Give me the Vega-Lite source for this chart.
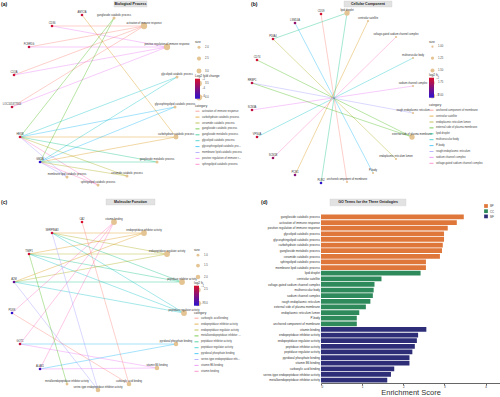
{
"$schema":"https://vega.github.io/schema/vega-lite/v6.json",
"padding":0,
"background":"white",
"config":{"font":"Liberation Sans","view":{"stroke":null},
 "legend":{"titleFontSize":3.2,"titleFontWeight":"normal","titleColor":"#333","labelFontSize":2.7,"labelColor":"#444","titlePadding":1.5,"rowPadding":0.9,"labelOffset":2,"padding":0,"gradientLength":20,"gradientThickness":5,"labelOverlap":false,"titleLimit":80}},
"datasets":{
 "nodesA":[
  {"name":"AMY2A","type":"gene","x":-13,"y":85,"lfc":-2.2},
  {"name":"CD36","type":"gene","x":-43,"y":74,"lfc":-2.0},
  {"name":"FCER1G","type":"gene","x":-66,"y":53,"lfc":-2.4},
  {"name":"C1QA","type":"gene","x":-81,"y":25,"lfc":-2.1},
  {"name":"LOC105377164","type":"gene","x":-83,"y":-7,"lfc":-2.3},
  {"name":"HEXB","type":"gene","x":-75,"y":-37,"lfc":-2.0},
  {"name":"GM2A","type":"gene","x":-55,"y":-62,"lfc":-6.4},
  {"name":"ganglioside catabolic process","type":"term","x":19,"y":82,"size":2},
  {"name":"activation of immune response","type":"term","x":49,"y":74,"size":4},
  {"name":"positive regulation of immune response","type":"term","x":72,"y":53,"size":4},
  {"name":"glycolipid catabolic process","type":"term","x":82,"y":23,"size":2},
  {"name":"glycosphingolipid catabolic process","type":"term","x":80,"y":-7,"size":2},
  {"name":"carbohydrate catabolic process","type":"term","x":81,"y":-37,"size":3},
  {"name":"ganglioside metabolic process","type":"term","x":62,"y":-62,"size":2},
  {"name":"ceramide catabolic process","type":"term","x":32,"y":-76,"size":2},
  {"name":"sphingolipid catabolic process","type":"term","x":3,"y":-85,"size":2},
  {"name":"membrane lipid catabolic process","type":"term","x":-28,"y":-77,"size":2}
 ],
 "edgesA":[
  {"gene":"CD36","term":"activation of immune response"},
  {"gene":"CD36","term":"positive regulation of immune response"},
  {"gene":"FCER1G","term":"activation of immune response"},
  {"gene":"FCER1G","term":"positive regulation of immune response"},
  {"gene":"C1QA","term":"activation of immune response"},
  {"gene":"C1QA","term":"positive regulation of immune response"},
  {"gene":"LOC105377164","term":"activation of immune response"},
  {"gene":"LOC105377164","term":"positive regulation of immune response"},
  {"gene":"AMY2A","term":"carbohydrate catabolic process"},
  {"gene":"HEXB","term":"ganglioside catabolic process"},
  {"gene":"HEXB","term":"glycolipid catabolic process"},
  {"gene":"HEXB","term":"glycosphingolipid catabolic process"},
  {"gene":"HEXB","term":"carbohydrate catabolic process"},
  {"gene":"HEXB","term":"ganglioside metabolic process"},
  {"gene":"HEXB","term":"ceramide catabolic process"},
  {"gene":"HEXB","term":"sphingolipid catabolic process"},
  {"gene":"HEXB","term":"membrane lipid catabolic process"},
  {"gene":"GM2A","term":"ganglioside catabolic process"},
  {"gene":"GM2A","term":"glycolipid catabolic process"},
  {"gene":"GM2A","term":"glycosphingolipid catabolic process"},
  {"gene":"GM2A","term":"carbohydrate catabolic process"},
  {"gene":"GM2A","term":"ganglioside metabolic process"},
  {"gene":"GM2A","term":"ceramide catabolic process"},
  {"gene":"GM2A","term":"sphingolipid catabolic process"},
  {"gene":"GM2A","term":"membrane lipid catabolic process"}
 ],
 "nodesB":[
  {"name":"CD59","type":"gene","x":-12,"y":83,"lfc":-2.1},
  {"name":"LSM14A","type":"gene","x":-38,"y":74,"lfc":-4.6},
  {"name":"PDIA4","type":"gene","x":-60,"y":58,"lfc":-2.4},
  {"name":"CD74","type":"gene","x":-76,"y":37,"lfc":-2.2},
  {"name":"RRBP1","type":"gene","x":-81,"y":14,"lfc":-3.0},
  {"name":"SCN3A","type":"gene","x":-81,"y":-13,"lfc":-2.8},
  {"name":"VPS4A","type":"gene","x":-76,"y":-40,"lfc":-2.3},
  {"name":"SCN1B","type":"gene","x":-60,"y":-61,"lfc":-4.3},
  {"name":"PCM1","type":"gene","x":-38,"y":-78,"lfc":-5.2},
  {"name":"PLIN2","type":"gene","x":-12,"y":-86,"lfc":-8.6},
  {"name":"lipid droplet","type":"term","x":14,"y":84,"size":2},
  {"name":"centriolar satellite","type":"term","x":35,"y":76,"size":1},
  {"name":"voltage-gated sodium channel complex","type":"term","x":63,"y":60,"size":1},
  {"name":"multivesicular body","type":"term","x":80,"y":39,"size":1},
  {"name":"sodium channel complex","type":"term","x":80,"y":11,"size":1},
  {"name":"rough endoplasmic reticulum","type":"term","x":80,"y":-16,"size":1},
  {"name":"external side of plasma membrane","type":"term","x":79,"y":-40,"size":2},
  {"name":"endoplasmic reticulum lumen","type":"term","x":63,"y":-62,"size":1},
  {"name":"P-body","type":"term","x":40,"y":-76,"size":1},
  {"name":"anchored component of membrane","type":"term","x":14,"y":-85,"size":1}
 ],
 "edgesB":[
  {"gene":"CD59","term":"anchored component of membrane"},
  {"gene":"LSM14A","term":"P-body"},
  {"gene":"PDIA4","term":"endoplasmic reticulum lumen"},
  {"gene":"CD74","term":"external side of plasma membrane"},
  {"gene":"RRBP1","term":"rough endoplasmic reticulum"},
  {"gene":"SCN3A","term":"sodium channel complex"},
  {"gene":"VPS4A","term":"multivesicular body"},
  {"gene":"SCN1B","term":"voltage-gated sodium channel complex"},
  {"gene":"PCM1","term":"centriolar satellite"},
  {"gene":"PLIN2","term":"lipid droplet"},
  {"gene":"PDIA4","term":"lipid droplet"},
  {"gene":"RRBP1","term":"external side of plasma membrane"}
 ],
 "nodesC":[
  {"name":"CA2","type":"gene","x":-15,"y":84,"lfc":-1.5},
  {"name":"SERPINA3","type":"gene","x":-45,"y":73,"lfc":-2.0},
  {"name":"TIMP1","type":"gene","x":-68,"y":52,"lfc":-1.8},
  {"name":"A2M","type":"gene","x":-83,"y":24,"lfc":-6.0},
  {"name":"PDXK","type":"gene","x":-85,"y":-7,"lfc":-8.5},
  {"name":"GOT1","type":"gene","x":-77,"y":-38,"lfc":-2.2},
  {"name":"ALAS1","type":"gene","x":-57,"y":-63,"lfc":-7.5},
  {"name":"vitamin binding","type":"term","x":17,"y":84,"size":3},
  {"name":"endopeptidase inhibitor activity","type":"term","x":47,"y":73,"size":3},
  {"name":"endopeptidase regulator activity","type":"term","x":70,"y":52,"size":3},
  {"name":"peptidase inhibitor activity","type":"term","x":85,"y":24,"size":3},
  {"name":"peptidase regulator activity","type":"term","x":87,"y":-7,"size":3},
  {"name":"pyridoxal phosphate binding","type":"term","x":79,"y":-38,"size":2},
  {"name":"vitamin B6 binding","type":"term","x":60,"y":-62,"size":2},
  {"name":"carboxylic acid binding","type":"term","x":32,"y":-78,"size":2},
  {"name":"serine-type endopeptidase inhibitor activity","type":"term","x":1,"y":-84,"size":2},
  {"name":"metalloendopeptidase inhibitor activity","type":"term","x":-30,"y":-78,"size":1}
 ],
 "edgesC":[
  {"gene":"SERPINA3","term":"endopeptidase inhibitor activity"},
  {"gene":"SERPINA3","term":"endopeptidase regulator activity"},
  {"gene":"SERPINA3","term":"peptidase inhibitor activity"},
  {"gene":"SERPINA3","term":"peptidase regulator activity"},
  {"gene":"TIMP1","term":"endopeptidase inhibitor activity"},
  {"gene":"TIMP1","term":"endopeptidase regulator activity"},
  {"gene":"TIMP1","term":"peptidase inhibitor activity"},
  {"gene":"TIMP1","term":"peptidase regulator activity"},
  {"gene":"A2M","term":"endopeptidase inhibitor activity"},
  {"gene":"A2M","term":"endopeptidase regulator activity"},
  {"gene":"A2M","term":"peptidase inhibitor activity"},
  {"gene":"A2M","term":"peptidase regulator activity"},
  {"gene":"PDXK","term":"vitamin binding"},
  {"gene":"GOT1","term":"vitamin binding"},
  {"gene":"ALAS1","term":"vitamin binding"},
  {"gene":"GOT1","term":"pyridoxal phosphate binding"},
  {"gene":"ALAS1","term":"pyridoxal phosphate binding"},
  {"gene":"GOT1","term":"vitamin B6 binding"},
  {"gene":"ALAS1","term":"vitamin B6 binding"},
  {"gene":"CA2","term":"carboxylic acid binding"},
  {"gene":"PDXK","term":"carboxylic acid binding"},
  {"gene":"SERPINA3","term":"serine-type endopeptidase inhibitor activity"},
  {"gene":"A2M","term":"serine-type endopeptidase inhibitor activity"},
  {"gene":"TIMP1","term":"metalloendopeptidase inhibitor activity"}
 ],
 "bars":[
  {"term":"ganglioside catabolic process","score":3.47,"ontology":"BP"},
  {"term":"activation of immune response","score":3.30,"ontology":"BP"},
  {"term":"positive regulation of immune response","score":3.08,"ontology":"BP"},
  {"term":"glycolipid catabolic process","score":2.99,"ontology":"BP"},
  {"term":"glycosphingolipid catabolic process","score":2.99,"ontology":"BP"},
  {"term":"carbohydrate catabolic process","score":2.96,"ontology":"BP"},
  {"term":"ganglioside metabolic process","score":2.94,"ontology":"BP"},
  {"term":"ceramide catabolic process","score":2.89,"ontology":"BP"},
  {"term":"sphingolipid catabolic process","score":2.55,"ontology":"BP"},
  {"term":"membrane lipid catabolic process","score":2.55,"ontology":"BP"},
  {"term":"lipid droplet","score":2.42,"ontology":"CC"},
  {"term":"centriolar satellite","score":1.47,"ontology":"CC"},
  {"term":"voltage-gated sodium channel complex","score":1.30,"ontology":"CC"},
  {"term":"multivesicular body","score":1.28,"ontology":"CC"},
  {"term":"sodium channel complex","score":1.26,"ontology":"CC"},
  {"term":"rough endoplasmic reticulum","score":1.20,"ontology":"CC"},
  {"term":"external side of plasma membrane","score":1.09,"ontology":"CC"},
  {"term":"endoplasmic reticulum lumen","score":0.93,"ontology":"CC"},
  {"term":"P-body","score":0.87,"ontology":"CC"},
  {"term":"anchored component of membrane","score":0.87,"ontology":"CC"},
  {"term":"vitamin binding","score":2.56,"ontology":"MF"},
  {"term":"endopeptidase inhibitor activity","score":2.36,"ontology":"MF"},
  {"term":"endopeptidase regulator activity","score":2.33,"ontology":"MF"},
  {"term":"peptidase inhibitor activity","score":2.28,"ontology":"MF"},
  {"term":"peptidase regulator activity","score":2.22,"ontology":"MF"},
  {"term":"pyridoxal phosphate binding","score":2.15,"ontology":"MF"},
  {"term":"vitamin B6 binding","score":2.15,"ontology":"MF"},
  {"term":"carboxylic acid binding","score":1.78,"ontology":"MF"},
  {"term":"serine-type endopeptidase inhibitor activity","score":1.70,"ontology":"MF"},
  {"term":"metalloendopeptidase inhibitor activity","score":1.61,"ontology":"MF"}
 ]
},
"spacing":2,
"resolve":{"scale":{"color":"independent","size":"independent","stroke":"independent"},"legend":{"color":"independent","size":"independent","stroke":"independent"}},
"vconcat":[
{"hconcat":[
 {"width":248,"height":196,
  "layer":[
   {"data":{"name":"edgesA"},
    "transform":[
     {"lookup":"gene","from":{"data":{"name":"nodesA"},"key":"name","fields":["x","y"]},"as":["gx","gy"]},
     {"lookup":"term","from":{"data":{"name":"nodesA"},"key":"name","fields":["x","y"]},"as":["tx","ty"]}],
    "mark":{"type":"rule","strokeWidth":0.55,"opacity":0.65},
    "encoding":{
     "x":{"field":"gx","type":"quantitative","scale":{"domain":[-95,153],"nice":false,"zero":false},"axis":null},
     "y":{"field":"gy","type":"quantitative","scale":{"domain":[-96,100],"nice":false,"zero":false},"axis":null},
     "x2":{"field":"tx"},"y2":{"field":"ty"},
     "stroke":{"field":"term","type":"nominal",
      "scale":{"domain":["activation of immune response","carbohydrate catabolic process","ceramide catabolic process","ganglioside catabolic process","ganglioside metabolic process","glycolipid catabolic process","glycosphingolipid catabolic process","membrane lipid catabolic process","positive regulation of immune response","sphingolipid catabolic process"],
       "range":["#F8766D","#D89000","#A3A500","#39B600","#00BF7D","#00BFC4","#00B0F6","#9590FF","#E76BF3","#FF62BC"]},
      "legend":{"title":"category","orient":"none","legendX":195,"legendY":104,"symbolType":"stroke","symbolSize":16,"symbolStrokeWidth":1,"labelLimit":40}}}},
   {"data":{"name":"nodesA"},"transform":[{"filter":"datum.type === 'term'"}],
    "mark":{"type":"point","filled":true,"color":"#E5C494","opacity":1},
    "encoding":{
     "x":{"field":"x","type":"quantitative","scale":{"domain":[-95,153],"nice":false,"zero":false},"axis":null},
     "y":{"field":"y","type":"quantitative","scale":{"domain":[-96,100],"nice":false,"zero":false},"axis":null},
     "size":{"field":"size","type":"quantitative","scale":{"domain":[2,4],"range":[9,40]},
      "legend":{"title":"size","orient":"none","legendX":195,"legendY":40,"format":".1f","encode":{"symbols":{"update":{"fill":{"value":"#000"},"stroke":{"value":"#000"},"opacity":{"value":1}}}}}}}},
   {"data":{"name":"nodesA"},"transform":[{"filter":"datum.type === 'gene'"}],
    "mark":{"type":"point","filled":true,"size":7,"opacity":1},
    "encoding":{
     "x":{"field":"x","type":"quantitative","scale":{"domain":[-95,153],"nice":false,"zero":false},"axis":null},
     "y":{"field":"y","type":"quantitative","scale":{"domain":[-96,100],"nice":false,"zero":false},"axis":null},
     "color":{"field":"lfc","type":"quantitative","scale":{"domain":[-6.5,-1.8],"range":["#2a12d0","#d9102b"],"interpolate":"rgb"},
      "legend":{"title":"Log2 fold change","orient":"none","legendX":195,"legendY":74,"direction":"vertical"}}}},
   {"data":{"name":"nodesA"},
    "mark":{"type":"text","fontSize":2.6,"dy":-3,"color":"#333"},
    "encoding":{
     "x":{"field":"x","type":"quantitative","scale":{"domain":[-95,153],"nice":false,"zero":false},"axis":null},
     "y":{"field":"y","type":"quantitative","scale":{"domain":[-96,100],"nice":false,"zero":false},"axis":null},
     "text":{"field":"name"}}},
   {"data":{"values":[{}]},
    "mark":{"type":"rect","fill":"#e2e2e2","stroke":"#c8c8c8","strokeWidth":0.3},
    "encoding":{
     "x":{"datum":19,"type":"quantitative","scale":{"domain":[-95,153],"nice":false,"zero":false},"axis":null},"x2":{"datum":52},
     "y":{"datum":99,"type":"quantitative","scale":{"domain":[-96,100],"nice":false,"zero":false},"axis":null},"y2":{"datum":93}}},
   {"data":{"values":[{}]},
    "mark":{"type":"text","fontSize":3.6,"fontWeight":"bold","color":"#222"},
    "encoding":{
     "x":{"datum":35.5,"type":"quantitative","scale":{"domain":[-95,153],"nice":false,"zero":false},"axis":null},
     "y":{"datum":96,"type":"quantitative","scale":{"domain":[-96,100],"nice":false,"zero":false},"axis":null},
     "text":{"value":"Biological Process"}}},
   {"data":{"values":[{}]},
    "mark":{"type":"text","fontSize":5,"fontWeight":"bold","align":"left","color":"#111"},
    "encoding":{
     "x":{"datum":-94,"type":"quantitative","scale":{"domain":[-95,153],"nice":false,"zero":false},"axis":null},
     "y":{"datum":96,"type":"quantitative","scale":{"domain":[-96,100],"nice":false,"zero":false},"axis":null},
     "text":{"value":"(a)"}}}
  ]},
 {"width":250,"height":196,
  "layer":[
   {"data":{"name":"edgesB"},
    "transform":[
     {"lookup":"gene","from":{"data":{"name":"nodesB"},"key":"name","fields":["x","y"]},"as":["gx","gy"]},
     {"lookup":"term","from":{"data":{"name":"nodesB"},"key":"name","fields":["x","y"]},"as":["tx","ty"]}],
    "mark":{"type":"rule","strokeWidth":0.55,"opacity":0.65},
    "encoding":{
     "x":{"field":"gx","type":"quantitative","scale":{"domain":[-83,167],"nice":false,"zero":false},"axis":null},
     "y":{"field":"gy","type":"quantitative","scale":{"domain":[-99,97],"nice":false,"zero":false},"axis":null},
     "x2":{"field":"tx"},"y2":{"field":"ty"},
     "stroke":{"field":"term","type":"nominal",
      "scale":{"domain":["anchored component of membrane","centriolar satellite","endoplasmic reticulum lumen","external side of plasma membrane","lipid droplet","multivesicular body","P-body","rough endoplasmic reticulum","sodium channel complex","voltage-gated sodium channel complex"],
       "range":["#F8766D","#D89000","#A3A500","#39B600","#00BF7D","#00BFC4","#00B0F6","#9590FF","#E76BF3","#FF62BC"]},
      "legend":{"title":"category","orient":"none","legendX":179,"legendY":103,"symbolType":"stroke","symbolSize":16,"symbolStrokeWidth":1,"labelLimit":60}}}},
   {"data":{"name":"nodesB"},"transform":[{"filter":"datum.type === 'term'"}],
    "mark":{"type":"point","filled":true,"color":"#E5C494","opacity":1},
    "encoding":{
     "x":{"field":"x","type":"quantitative","scale":{"domain":[-83,167],"nice":false,"zero":false},"axis":null},
     "y":{"field":"y","type":"quantitative","scale":{"domain":[-99,97],"nice":false,"zero":false},"axis":null},
     "size":{"field":"size","type":"quantitative","scale":{"domain":[1,2],"range":[5,28]},
      "legend":{"title":"size","orient":"none","legendX":179,"legendY":40,"values":[1,1.25,1.5,1.75,2],"format":".2f","encode":{"symbols":{"update":{"fill":{"value":"#000"},"stroke":{"value":"#000"},"opacity":{"value":1}}}}}}}},
   {"data":{"name":"nodesB"},"transform":[{"filter":"datum.type === 'gene'"}],
    "mark":{"type":"point","filled":true,"size":7,"opacity":1},
    "encoding":{
     "x":{"field":"x","type":"quantitative","scale":{"domain":[-83,167],"nice":false,"zero":false},"axis":null},
     "y":{"field":"y","type":"quantitative","scale":{"domain":[-99,97],"nice":false,"zero":false},"axis":null},
     "color":{"field":"lfc","type":"quantitative","scale":{"domain":[-8.8,-1.9],"range":["#2a12d0","#d9102b"],"interpolate":"rgb"},
      "legend":{"title":"log2 fc","orient":"none","legendX":179,"legendY":73,"direction":"vertical"}}}},
   {"data":{"name":"nodesB"},
    "mark":{"type":"text","fontSize":2.6,"dy":-3,"color":"#333"},
    "encoding":{
     "x":{"field":"x","type":"quantitative","scale":{"domain":[-83,167],"nice":false,"zero":false},"axis":null},
     "y":{"field":"y","type":"quantitative","scale":{"domain":[-99,97],"nice":false,"zero":false},"axis":null},
     "text":{"field":"name"}}},
   {"data":{"values":[{}]},
    "mark":{"type":"rect","fill":"#e2e2e2","stroke":"#c8c8c8","strokeWidth":0.3},
    "encoding":{
     "x":{"datum":11,"type":"quantitative","scale":{"domain":[-83,167],"nice":false,"zero":false},"axis":null},"x2":{"datum":59},
     "y":{"datum":96,"type":"quantitative","scale":{"domain":[-99,97],"nice":false,"zero":false},"axis":null},"y2":{"datum":90}}},
   {"data":{"values":[{}]},
    "mark":{"type":"text","fontSize":3.6,"fontWeight":"bold","color":"#222"},
    "encoding":{
     "x":{"datum":35,"type":"quantitative","scale":{"domain":[-83,167],"nice":false,"zero":false},"axis":null},
     "y":{"datum":93,"type":"quantitative","scale":{"domain":[-99,97],"nice":false,"zero":false},"axis":null},
     "text":{"value":"Cellular Component"}}},
   {"data":{"values":[{}]},
    "mark":{"type":"text","fontSize":5,"fontWeight":"bold","align":"left","color":"#111"},
    "encoding":{
     "x":{"datum":-82,"type":"quantitative","scale":{"domain":[-83,167],"nice":false,"zero":false},"axis":null},
     "y":{"datum":93,"type":"quantitative","scale":{"domain":[-99,97],"nice":false,"zero":false},"axis":null},
     "text":{"value":"(b)"}}}
  ]}
 ],"spacing":2,"bounds":"flush",
 "resolve":{"scale":{"color":"independent","size":"independent","stroke":"independent"},"legend":{"color":"independent","size":"independent","stroke":"independent"}}},
{"hconcat":[
 {"width":318,"height":199,
  "layer":[
   {"data":{"name":"edgesC"},
    "transform":[
     {"lookup":"gene","from":{"data":{"name":"nodesC"},"key":"name","fields":["x","y"]},"as":["gx","gy"]},
     {"lookup":"term","from":{"data":{"name":"nodesC"},"key":"name","fields":["x","y"]},"as":["tx","ty"]}],
    "mark":{"type":"rule","strokeWidth":0.55,"opacity":0.65},
    "encoding":{
     "x":{"field":"gx","type":"quantitative","scale":{"domain":[-97,221],"nice":false,"zero":false},"axis":null},
     "y":{"field":"gy","type":"quantitative","scale":{"domain":[-92,107],"nice":false,"zero":false},"axis":null},
     "x2":{"field":"tx"},"y2":{"field":"ty"},
     "stroke":{"field":"term","type":"nominal",
      "scale":{"domain":["carboxylic acid binding","endopeptidase inhibitor activity","endopeptidase regulator activity","metalloendopeptidase inhibitor activity","peptidase inhibitor activity","peptidase regulator activity","pyridoxal phosphate binding","serine-type endopeptidase inhibitor activity","vitamin B6 binding","vitamin binding"],
       "range":["#F8766D","#D89000","#A3A500","#39B600","#00BF7D","#00BFC4","#00B0F6","#9590FF","#E76BF3","#FF62BC"]},
      "legend":{"title":"category","orient":"none","legendX":194,"legendY":112,"symbolType":"stroke","symbolSize":16,"symbolStrokeWidth":1,"labelLimit":40}}}},
   {"data":{"name":"nodesC"},"transform":[{"filter":"datum.type === 'term'"}],
    "mark":{"type":"point","filled":true,"color":"#E5C494","opacity":1},
    "encoding":{
     "x":{"field":"x","type":"quantitative","scale":{"domain":[-97,221],"nice":false,"zero":false},"axis":null},
     "y":{"field":"y","type":"quantitative","scale":{"domain":[-92,107],"nice":false,"zero":false},"axis":null},
     "size":{"field":"size","type":"quantitative","scale":{"domain":[1,3],"range":[8,34]},
      "legend":{"title":"size","orient":"none","legendX":194,"legendY":49,"format":".1f","encode":{"symbols":{"update":{"fill":{"value":"#000"},"stroke":{"value":"#000"},"opacity":{"value":1}}}}}}}},
   {"data":{"name":"nodesC"},"transform":[{"filter":"datum.type === 'gene'"}],
    "mark":{"type":"point","filled":true,"size":7,"opacity":1},
    "encoding":{
     "x":{"field":"x","type":"quantitative","scale":{"domain":[-97,221],"nice":false,"zero":false},"axis":null},
     "y":{"field":"y","type":"quantitative","scale":{"domain":[-92,107],"nice":false,"zero":false},"axis":null},
     "color":{"field":"lfc","type":"quantitative","scale":{"domain":[-8.6,-1.4],"range":["#2a12d0","#d9102b"],"interpolate":"rgb"},
      "legend":{"title":"log2 fc","orient":"none","legendX":194,"legendY":82,"direction":"vertical"}}}},
   {"data":{"name":"nodesC"},
    "mark":{"type":"text","fontSize":2.6,"dy":-3,"color":"#333"},
    "encoding":{
     "x":{"field":"x","type":"quantitative","scale":{"domain":[-97,221],"nice":false,"zero":false},"axis":null},
     "y":{"field":"y","type":"quantitative","scale":{"domain":[-92,107],"nice":false,"zero":false},"axis":null},
     "text":{"field":"name"}}},
   {"data":{"values":[{}]},
    "mark":{"type":"rect","fill":"#e2e2e2","stroke":"#c8c8c8","strokeWidth":0.3},
    "encoding":{
     "x":{"datum":9,"type":"quantitative","scale":{"domain":[-97,221],"nice":false,"zero":false},"axis":null},"x2":{"datum":58},
     "y":{"datum":107,"type":"quantitative","scale":{"domain":[-92,107],"nice":false,"zero":false},"axis":null},"y2":{"datum":101}}},
   {"data":{"values":[{}]},
    "mark":{"type":"text","fontSize":3.6,"fontWeight":"bold","color":"#222"},
    "encoding":{
     "x":{"datum":33.5,"type":"quantitative","scale":{"domain":[-97,221],"nice":false,"zero":false},"axis":null},
     "y":{"datum":104,"type":"quantitative","scale":{"domain":[-92,107],"nice":false,"zero":false},"axis":null},
     "text":{"value":"Molecular Function"}}},
   {"data":{"values":[{}]},
    "mark":{"type":"text","fontSize":5,"fontWeight":"bold","align":"left","color":"#111"},
    "encoding":{
     "x":{"datum":-96,"type":"quantitative","scale":{"domain":[-97,221],"nice":false,"zero":false},"axis":null},
     "y":{"datum":104,"type":"quantitative","scale":{"domain":[-92,107],"nice":false,"zero":false},"axis":null},
     "text":{"value":"(c)"}}}
  ]},
 {"vconcat":[
   {"width":179,"height":13,
    "layer":[
     {"data":{"values":[{}]},
      "mark":{"type":"rect","fill":"#e2e2e2","stroke":"#c8c8c8","strokeWidth":0.3},
      "encoding":{
       "x":{"datum":0.05,"type":"quantitative","scale":{"domain":[0,1],"nice":false,"zero":false},"axis":null},"x2":{"datum":0.475},
       "y":{"datum":1.0,"type":"quantitative","scale":{"domain":[0,1],"nice":false,"zero":false},"axis":null},"y2":{"datum":0.48}}},
     {"data":{"values":[{}]},
      "mark":{"type":"text","fontSize":3.6,"fontWeight":"bold","color":"#222"},
      "encoding":{
       "x":{"datum":0.263,"type":"quantitative","scale":{"domain":[0,1],"nice":false,"zero":false},"axis":null},
       "y":{"datum":0.74,"type":"quantitative","scale":{"domain":[0,1],"nice":false,"zero":false},"axis":null},
       "text":{"value":"GO Terms for the Three Ontologies"}}},
     {"data":{"values":[{}]},
      "mark":{"type":"text","fontSize":5,"fontWeight":"bold","align":"left","color":"#111"},
      "encoding":{
       "x":{"datum":-0.335,"type":"quantitative","scale":{"domain":[0,1],"nice":false,"zero":false},"axis":null},
       "y":{"datum":0.76,"type":"quantitative","scale":{"domain":[0,1],"nice":false,"zero":false},"axis":null},
       "text":{"value":"(d)"}}}
    ]},
   {"width":179,"height":169,
    "data":{"name":"bars"},
    "mark":{"type":"bar"},
    "encoding":{
     "y":{"field":"term","type":"nominal","sort":null,"scale":{"paddingInner":0.15,"paddingOuter":0.1},
      "axis":{"title":null,"labelFontSize":3,"ticks":false,"domain":false,"labelPadding":1.5,"labelColor":"#333","labelLimit":90}},
     "x":{"field":"score","type":"quantitative","scale":{"domain":[0,4.35],"nice":false},
      "axis":{"title":"Enrichment Score","titleFontSize":7.5,"titleFontWeight":"normal","titleColor":"#333","labelFontSize":3,"tickSize":2,"values":[0,1,2,3,4],"grid":false,"domainColor":"#666","tickColor":"#666","labelPadding":0.5,"titlePadding":0,"labelColor":"#333"}},
     "color":{"field":"ontology","type":"nominal","scale":{"domain":["BP","CC","MF"],"range":["#E0773A","#2F8A5B","#2E2E78"]},
      "legend":{"title":null,"orient":"none","legendX":163,"legendY":5,"symbolType":"square","symbolSize":14,"labelFontSize":2.8,"rowPadding":1.2,"symbolStrokeWidth":0}}}}
  ],"spacing":2,"bounds":"flush"}
 ],"spacing":3,"bounds":"flush",
 "resolve":{"scale":{"color":"independent","size":"independent","stroke":"independent"},"legend":{"color":"independent","size":"independent","stroke":"independent"}}}
]
}
